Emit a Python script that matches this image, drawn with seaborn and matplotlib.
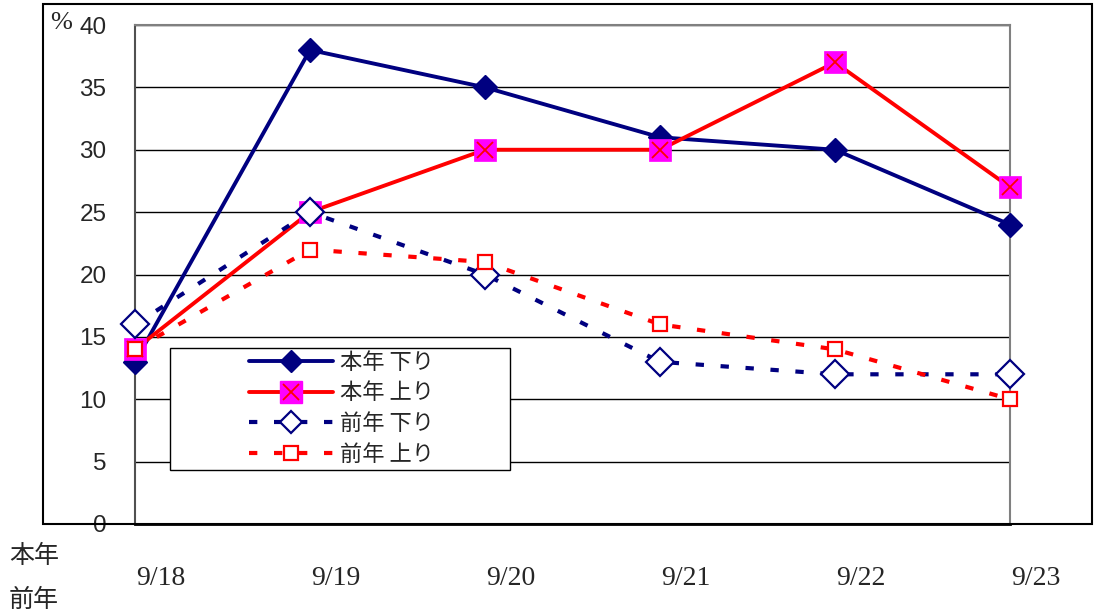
import numpy as np
import matplotlib
matplotlib.use('Agg')
import matplotlib.pyplot as plt
import matplotlib.transforms as mtrans
from matplotlib.lines import Line2D
from matplotlib.patches import Rectangle
import seaborn as sns

dates = ['9/18', '9/19', '9/20', '9/21', '9/22', '9/23']
hon_kudari = [13, 38, 35, 31, 30, 24]   # 本年 下り
hon_nobori = [14, 25, 30, 30, 37, 27]   # 本年 上り
zen_kudari = [16, 25, 20, 13, 12, 12]   # 前年 下り
zen_nobori = [14, 22, 21, 16, 14, 10]   # 前年 上り
names = ['本年 下り', '本年 上り', '前年 下り', '前年 上り']

sns.set_style('white')
plt.rcParams['font.family'] = ['Liberation Sans', 'Noto Sans CJK JP', 'DejaVu Sans']

navy = '#000080'
red = '#FF0000'
mag = '#FF00FF'
dash = (0, (2, 4))

x = np.arange(len(dates))
fig = plt.figure(figsize=(10.94, 6.16), dpi=100)
ax = fig.add_axes([135/1094, 92/616, 875/1094, 499/616])

sns.lineplot(x=x, y=hon_kudari, ax=ax, color=navy, lw=2.8, marker='D', ms=12,
             mec=navy, mew=1, clip_on=False, zorder=3)
sns.lineplot(x=x, y=hon_nobori, ax=ax, color=red, lw=2.8, marker='s', ms=16.5,
             mfc=mag, mec=mag, mew=0.5, clip_on=False, zorder=3)
sns.lineplot(x=x, y=hon_nobori, ax=ax, lw=0, marker='x', ms=12,
             mec=red, mew=1.3, clip_on=False, zorder=3)
sns.lineplot(x=x, y=zen_kudari, ax=ax, color=navy, lw=3, ls=dash, marker='D', ms=14.5,
             mfc='white', mec=navy, mew=1.6, clip_on=False, zorder=3)
sns.lineplot(x=x, y=zen_nobori, ax=ax, color=red, lw=3, ls=dash, marker='s', ms=10.5,
             mfc='white', mec=red, mew=1.6, clip_on=False, zorder=3)

ax.set_xlim(0, 5)
ax.set_ylim(0, 40)
ax.set_yticks(range(0, 41, 5))
ax.set_xticks(x)
ax.set_xticklabels([])
# date labels sit a little right of each category, as in the original
off = mtrans.ScaledTranslation(0.26, 0, fig.dpi_scale_trans)
tr = mtrans.blended_transform_factory(ax.transData, ax.transAxes) + off
for xi, d in zip(x, dates):
    ax.text(xi, -0.109, d, transform=tr, family='Liberation Serif', fontsize=20,
            ha='center', va='center')
ax.tick_params(axis='y', length=0, pad=20.5, labelsize=17.5)
ax.tick_params(axis='x', direction='in', length=8, color='#606060')
ax.grid(axis='y', color='black', lw=1)
ax.grid(axis='x', visible=False)
for side in ['top', 'right']:
    ax.spines[side].set_color('#808080')
    ax.spines[side].set_linewidth(1.5)
ax.spines['left'].set_color('#505050')
ax.spines['left'].set_linewidth(1.5)
ax.spines['bottom'].set_color('black')
ax.spines['bottom'].set_linewidth(2)
for s in ax.spines.values():
    s.set_zorder(2.6)

# outer chart frame
fig.patches.append(Rectangle((43/1094, 92/616), 1049/1094, 520/616, transform=fig.transFigure,
                             fill=False, ec='black', lw=1.5))

fig.text(61/1094, 1 - 23/616, '%', family='Liberation Serif', fontsize=19, ha='center', va='center')
fig.text(34/1094, 1 - 556/616, '本年', family='Noto Sans CJK JP', fontsize=18, ha='center', va='center')
fig.text(34/1094, 1 - 600/616, '前年', family='Noto Sans CJK JP', fontsize=18, ha='center', va='center')

# legend
ax.add_patch(Rectangle((0.04, 0.108), 0.3886, 0.2447, transform=ax.transAxes,
                       fc='white', ec='black', lw=1, zorder=4))
h1 = Line2D([], [], color=navy, lw=2.8, marker='D', ms=11, mec=navy)
h2 = (Line2D([], [], color=red, lw=2.8, marker='s', ms=16.5, mfc=mag, mec=mag),
      Line2D([], [], lw=0, marker='x', ms=12, mec=red, mew=1.3))
h3 = Line2D([], [], color=navy, lw=3, ls=dash, marker='D', ms=11, mfc='white', mec=navy, mew=1.6)
h4 = Line2D([], [], color=red, lw=3, ls=dash, marker='s', ms=10.5, mfc='white', mec=red, mew=1.6)
leg = ax.legend([h1, h2, h3, h4], names, loc='center', bbox_to_anchor=(0.236, 0.232),
                frameon=False, prop={'family': 'Noto Sans CJK JP', 'size': 16},
                handlelength=3.8, handletextpad=0.3, labelspacing=0.34, borderpad=0)
leg.set_zorder(5)

fig.savefig('out.png', dpi=100)
